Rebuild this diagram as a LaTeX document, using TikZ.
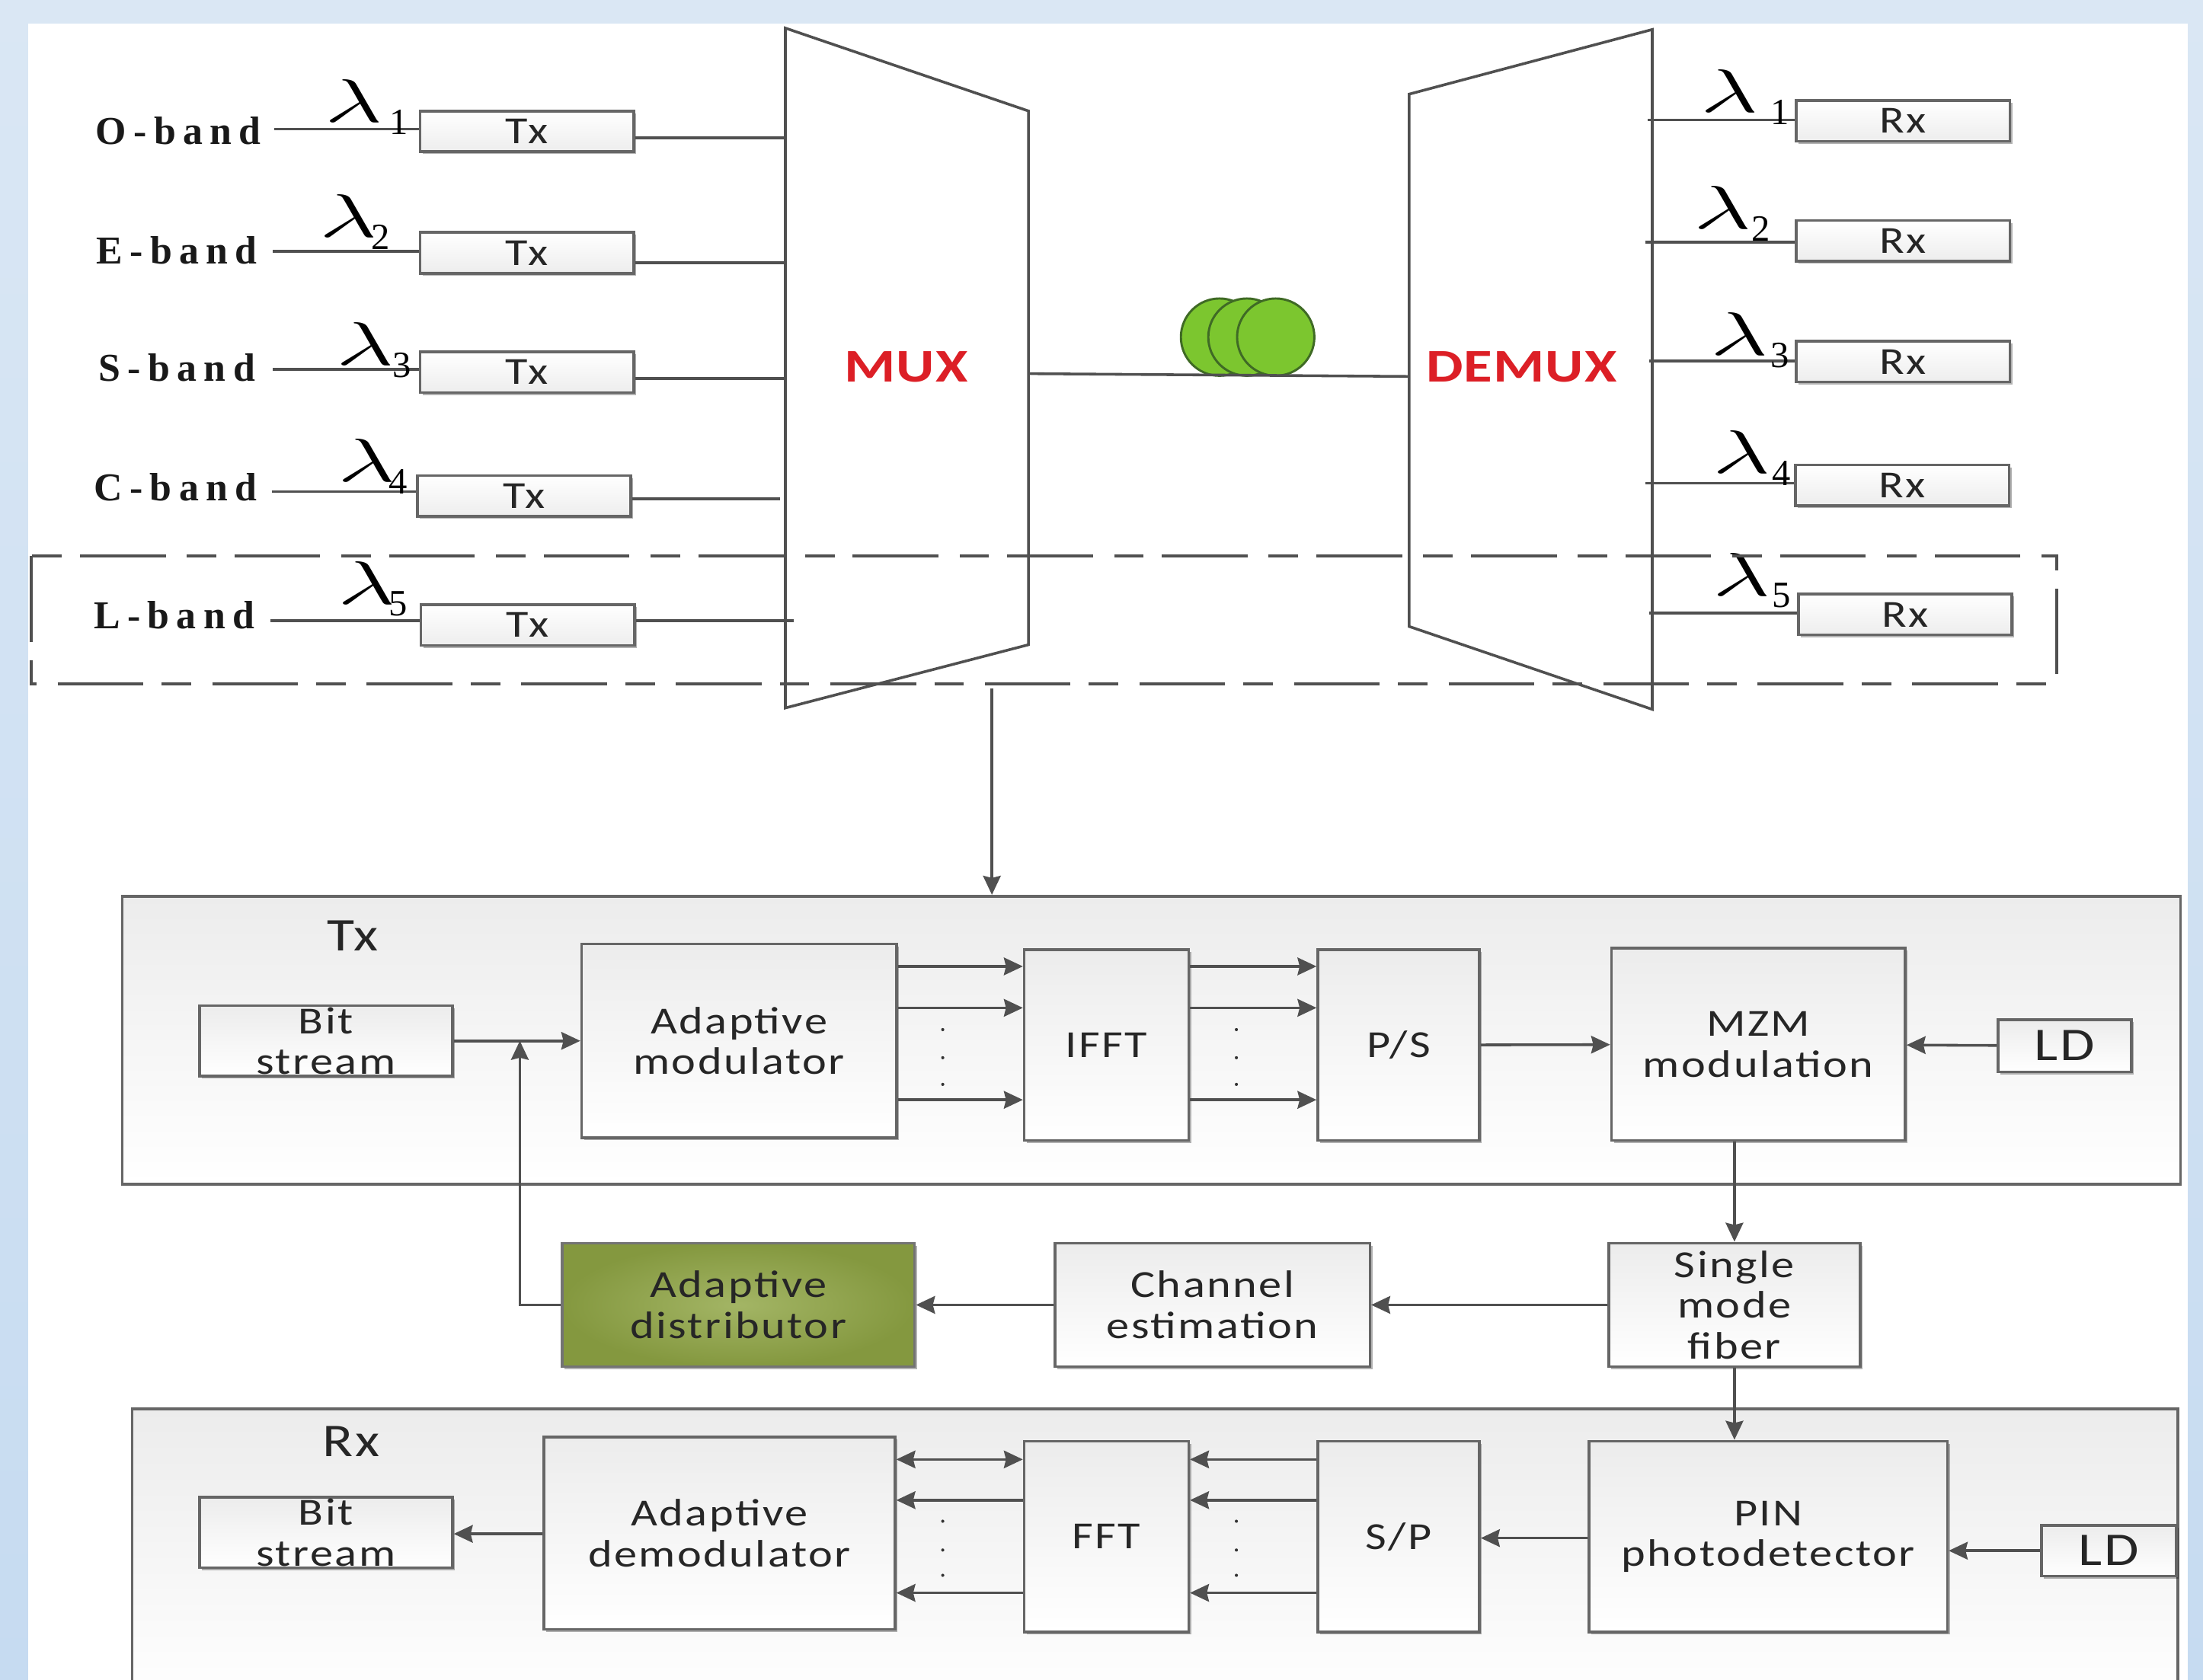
\documentclass[tikz,border=0pt]{standalone}
\usepackage{fontspec}
\usepackage{graphicx}
\usetikzlibrary{positioning,arrows.meta,shadows}
\setmainfont[FakeStretch=1.2,LetterSpace=5]{Carlito}
\newfontfamily\bandfont[LetterSpace=18]{Liberation Serif}
\newfontfamily\digitfont{Liberation Serif}
\newfontfamily\muxfont[FakeStretch=1.25,LetterSpace=2]{Carlito}
\definecolor{bgtop}{HTML}{DAE7F4}
\definecolor{bgbottom}{HTML}{C6DBF1}
\definecolor{wirecol}{HTML}{505050}
\definecolor{edgecol}{HTML}{666666}
\definecolor{paneltop}{HTML}{ECECEC}
\definecolor{coilgreen}{HTML}{7CC62F}
\definecolor{coiledge}{HTML}{3F6A25}
\definecolor{muxred}{HTML}{DC1F26}
\definecolor{distinner}{HTML}{A3B565}
\definecolor{distouter}{HTML}{84983F}
\newcommand{\lamsub}[2]{\scalebox{1.65}[1]{$\lambda$}\hspace{#1}\raisebox{-1.7mm}{\fontsize{15}{15}\digitfont\selectfont #2}}

\begin{document}
\begin{tikzpicture}[
  x=0.2mm, y=-0.2mm,
  % Node Styles
  boxsize/.style 2 args={minimum width=#1*0.2mm, minimum height=#2*0.2mm},
  pblock/.style={rectangle, draw=edgecol, line width=1.1pt, top color=paneltop, bottom color=white, inner sep=0pt, align=center, font=\fontsize{15.5}{16.5}\selectfont, text=black!85, drop shadow={shadow xshift=0.35mm, shadow yshift=-0.35mm, fill=black, opacity=0.3}},
  trxbox/.style={pblock, boxsize={152}{29}, top color=white, bottom color=black!7},
  panel/.style={rectangle, draw=edgecol, line width=1.1pt, top color=paneltop, bottom color=white, inner sep=0pt},
  bandlabel/.style={inner sep=0pt, minimum width=27.2mm, align=center, font=\fontsize{16}{16}\bandfont\bfseries\selectfont, text=black!90},
  lamnode/.style={inner sep=0pt, anchor=base west, font=\fontsize{24}{24}\selectfont},
  biglabel/.style={inner sep=0pt, font=\fontsize{19}{20}\selectfont, text=black!85},
  muxlabel/.style={inner sep=0pt, text=muxred, font=\fontsize{19}{20}\muxfont\bfseries\selectfont},
  coil/.style={circle, draw=coiledge, line width=0.9pt, fill=coilgreen, minimum size=11mm, inner sep=0pt},
  dotmark/.style={circle, fill=black!80, minimum size=0.45mm, inner sep=0pt},
  % Arrow Styles
  wire/.style={draw=wirecol, line width=1.1pt},
  solidarrow/.style={wire, -{Stealth[length=2.7mm, width=2.5mm, inset=0.3mm]}},
  bothways/.style={wire, {Stealth[length=2.7mm, width=2.5mm, inset=0.3mm]}-{Stealth[length=2.7mm, width=2.5mm, inset=0.3mm]}},
  dashbox/.style={draw=wirecol, line width=1.2pt, dash pattern=on 12.2mm off 2.6mm on 4.2mm off 3mm},
]
\clip (0,0) rectangle (1568,1196);

% Background
\fill[top color=bgtop, bottom color=bgbottom] (0,0) rectangle (1568,1196);
\fill[white] (20,17) rectangle (1557,1196);

% Mux and demux
\coordinate (mux_tl) at (559,20);
\coordinate (mux_tr) at (732,79);
\coordinate (mux_br) at (732,459);
\coordinate (mux_bl) at (559,504);
\coordinate (demux_tl) at (1003,67);
\coordinate (demux_tr) at (1176,21);
\coordinate (demux_br) at (1176,505);
\coordinate (demux_bl) at (1003,446);
\draw[wire] (mux_tl) -- (mux_tr) -- (mux_br) -- (mux_bl) -- cycle;
\draw[wire] (demux_tl) -- (demux_tr) -- (demux_br) -- (demux_bl) -- cycle;
\node[muxlabel] (MUX) at (645,261) {MUX};
\node[muxlabel] (DEMUX) at (1083,261) {DEMUX};

% Bands and Tx
\node[bandlabel] (O_band) at (127,93) {O-band};
\node[bandlabel] (E_band) at (126,178) {E-band};
\node[bandlabel] (S_band) at (126,262) {S-band};
\node[bandlabel] (C_band) at (125,347) {C-band};
\node[bandlabel] (L_band) at (124,438) {L-band};
\node[trxbox] (Tx_O) at (375,93.5) {Tx};
\node[trxbox] (Tx_E) at (375,180) {Tx};
\node[trxbox] (Tx_S) at (375,265) {Tx};
\node[trxbox] (Tx_C) at (373,353) {Tx};
\node[trxbox] (Tx_L) at (375.5,445) {Tx};

\draw[wire] (O_band.east |- 0,92) -- (Tx_O.west |- 0,92);
\draw[wire] (E_band.east |- 0,179) -- (Tx_E.west |- 0,179);
\draw[wire] (S_band.east |- 0,263) -- (Tx_S.west |- 0,263);
\draw[wire] (C_band.east |- 0,350) -- (Tx_C.west |- 0,350);
\draw[wire] (L_band.east |- 0,442) -- (Tx_L.west |- 0,442);

\coordinate (mux_in1) at (559,98);
\coordinate (mux_in2) at (559,187);
\coordinate (mux_in3) at (559,269.5);
\coordinate (mux_in4) at (555,355);
\coordinate (mux_in5) at (565,442);
\draw[wire] (Tx_O.east |- mux_in1) -- (mux_in1);
\draw[wire] (Tx_E.east |- mux_in2) -- (mux_in2);
\draw[wire] (Tx_S.east |- mux_in3) -- (mux_in3);
\draw[wire] (Tx_C.east |- mux_in4) -- (mux_in4);
\draw[wire] (Tx_L.east |- mux_in5) -- (mux_in5);

\node[lamnode] (lam_O) at (231,87) {\lamsub{1mm}{1}};
\node[lamnode] (lam_E) at (227,169) {\lamsub{-0.8mm}{2}};
\node[lamnode] (lam_S) at (239,260) {\lamsub{-0.2mm}{3}};
\node[lamnode] (lam_C) at (240,343) {\lamsub{-1mm}{4}};
\node[lamnode] (lam_L) at (240,430) {\lamsub{-1mm}{5}};

% Rx
\node[trxbox] (Rx_1) at (1354.5,86) {Rx};
\node[trxbox] (Rx_2) at (1354.5,171.5) {Rx};
\node[trxbox] (Rx_3) at (1354.5,257.5) {Rx};
\node[trxbox] (Rx_4) at (1354,345.5) {Rx};
\node[trxbox] (Rx_5) at (1356,437.5) {Rx};
\coordinate (demux_out1) at (1173,85.5);
\coordinate (demux_out2) at (1171,172.5);
\coordinate (demux_out3) at (1174,257);
\coordinate (demux_out4) at (1171,344);
\coordinate (demux_out5) at (1174,436.5);
\draw[wire] (demux_out1) -- (Rx_1.west |- demux_out1);
\draw[wire] (demux_out2) -- (Rx_2.west |- demux_out2);
\draw[wire] (demux_out3) -- (Rx_3.west |- demux_out3);
\draw[wire] (demux_out4) -- (Rx_4.west |- demux_out4);
\draw[wire] (demux_out5) -- (Rx_5.west |- demux_out5);
\node[lamnode] (lam_R1) at (1210,80) {\lamsub{1.8mm}{1}};
\node[lamnode] (lam_R2) at (1205,163) {\lamsub{0mm}{2}};
\node[lamnode] (lam_R3) at (1217,253) {\lamsub{0.4mm}{3}};
\node[lamnode] (lam_R4) at (1219,337) {\lamsub{0.2mm}{4}};
\node[lamnode] (lam_R5) at (1219,424) {\lamsub{0.2mm}{5}};

% Fiber coil
\node[coil] (coil_a) at (868,240) {};
\node[coil] (coil_b) at (887.5,240) {};
\node[coil] (coil_c) at (908,240) {};
\coordinate (mux_out) at (732,266);
\coordinate (demux_in) at (1003,268);
\draw[wire] (mux_out) -- (demux_in);

% Dashed frame
\draw[dashbox] (22,396) rectangle (1464,487);

% Tx chain
\node[panel, boxsize={1465}{205}] (Tx_panel) at (819.5,740.5) {};
\node[biglabel] (Tx_title) at (251,666) {Tx};
\node[pblock, boxsize={180}{50}] (Bit_Tx) at (232,741) {Bit\\stream};
\node[pblock, boxsize={224}{138}] (AdMod) at (526,741) {Adaptive\\modulator};
\node[pblock, boxsize={117}{136}] (IFFT) at (787.5,744) {IFFT};
\node[pblock, boxsize={115}{136}] (PS) at (995.5,744) {P/S};
\node[pblock, boxsize={209}{137}] (MZM) at (1251.5,743.5) {MZM\\modulation};
\node[pblock, boxsize={95}{37}, font=\fontsize{19}{20}\selectfont] (LD_Tx) at (1469.5,744.5) {LD};

\coordinate (join) at (370,741);
\coordinate (mux_down) at (706,490);
\draw[solidarrow] (mux_down) -- (mux_down |- Tx_panel.north);
\draw[solidarrow] (Bit_Tx) -- (AdMod);
\draw[solidarrow] (AdMod.east |- 0,688) -- (IFFT.west |- 0,688);
\draw[solidarrow] (AdMod.east |- 0,717.5) -- (IFFT.west |- 0,717.5);
\draw[solidarrow] (AdMod.east |- 0,783) -- (IFFT.west |- 0,783);
\draw[solidarrow] (IFFT.east |- 0,688) -- (PS.west |- 0,688);
\draw[solidarrow] (IFFT.east |- 0,717.5) -- (PS.west |- 0,717.5);
\draw[solidarrow] (IFFT.east |- 0,783) -- (PS.west |- 0,783);
\draw[solidarrow] (PS) -- (MZM);
\draw[solidarrow] (LD_Tx) -- (MZM);
\node[dotmark] (dot_t1) at (671,733) {};
\node[dotmark] (dot_t2) at (671,753) {};
\node[dotmark] (dot_t3) at (671,772) {};
\node[dotmark] (dot_t4) at (880,733) {};
\node[dotmark] (dot_t5) at (880,753) {};
\node[dotmark] (dot_t6) at (880,772) {};

% Middle row
\node[pblock, boxsize={179}{88}] (SMF) at (1234.5,929) {Single\\mode\\fiber};
\node[pblock, boxsize={224}{88}] (Channel) at (863,929) {Channel\\estimation};
\node[pblock, boxsize={251}{88}, draw=black!55, inner color=distinner, outer color=distouter] (Distributor) at (525.5,929) {Adaptive\\distributor};
\draw[solidarrow] (MZM.south -| SMF.north) -- (SMF.north);
\draw[solidarrow] (SMF) -- (Channel);
\draw[solidarrow] (Channel) -- (Distributor);
\draw[solidarrow] (Distributor) -| (join);

% Rx chain
\node[panel, boxsize={1456}{212}] (Rx_panel) at (822,1109) {};
\node[biglabel] (Rx_title) at (250,1026) {Rx};
\node[pblock, boxsize={180}{50}] (Bit_Rx) at (232,1091) {Bit\\stream};
\node[pblock, boxsize={250}{137}] (AdDemod) at (512,1091.5) {Adaptive\\demodulator};
\node[pblock, boxsize={117}{136}] (FFT) at (787.5,1094) {FFT};
\node[pblock, boxsize={115}{136}] (SP) at (995.5,1094) {S/P};
\node[pblock, boxsize={255}{136}] (PIN) at (1258.5,1094) {PIN\\photodetector};
\node[pblock, boxsize={96}{36}, font=\fontsize{19}{20}\selectfont] (LD_Rx) at (1501,1104) {LD};

\draw[solidarrow] (SMF.south) -- (SMF.south |- PIN.north);
\draw[solidarrow] (AdDemod.west |- 0,1092) -- (Bit_Rx.east |- 0,1092);
\draw[bothways] (AdDemod.east |- 0,1039) -- (FFT.west |- 0,1039);
\draw[solidarrow] (FFT.west |- 0,1068) -- (AdDemod.east |- 0,1068);
\draw[solidarrow] (FFT.west |- 0,1134) -- (AdDemod.east |- 0,1134);
\draw[solidarrow] (SP.west |- 0,1039) -- (FFT.east |- 0,1039);
\draw[solidarrow] (SP.west |- 0,1068) -- (FFT.east |- 0,1068);
\draw[solidarrow] (SP.west |- 0,1134) -- (FFT.east |- 0,1134);
\draw[solidarrow] (PIN.west |- 0,1095) -- (SP.east |- 0,1095);
\draw[solidarrow] (LD_Rx) -- (PIN.east |- LD_Rx);
\node[dotmark] (dot_r1) at (671,1083) {};
\node[dotmark] (dot_r2) at (671,1103.5) {};
\node[dotmark] (dot_r3) at (671,1121.5) {};
\node[dotmark] (dot_r4) at (880,1083) {};
\node[dotmark] (dot_r5) at (880,1103.5) {};
\node[dotmark] (dot_r6) at (880,1121.5) {};

\end{tikzpicture}
\end{document}
